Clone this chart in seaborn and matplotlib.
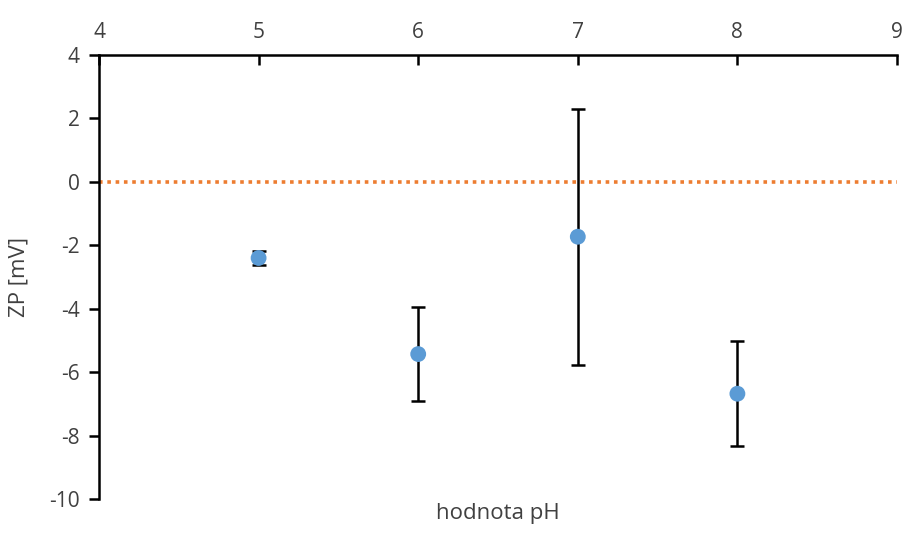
import matplotlib
matplotlib.use("Agg")
import matplotlib.pyplot as plt
import seaborn as sns
import pandas as pd

ph = [5, 6, 7, 8]
zp = [-2.40, -5.43, -1.73, -6.68]
zp_err = [0.21, 1.47, 4.03, 1.65]

ref_x = [4, 9]
ref_y = [0, 0]

df = pd.DataFrame({"ph": ph, "zp": zp, "err": zp_err})

sns.set_style("white")
plt.rcParams['font.family'] = ['Open Sans', 'DejaVu Sans']
plt.rcParams['axes.unicode_minus'] = False

fig = plt.figure(figsize=(9.06, 5.33), dpi=100)
ax = fig.add_axes([99 / 906, 1 - 499 / 533, (897 - 99) / 906, (499 - 55) / 533])

# orange dotted reference line at zero
sns.lineplot(x=ref_x, y=ref_y, ax=ax, color="#ED7D31", linestyle=(0, (1, 1.3)),
             linewidth=2.6, zorder=2)

ax.errorbar(df["ph"], df["zp"], yerr=df["err"], fmt="none", ecolor="black",
            elinewidth=1.8, capsize=5, capthick=1.8, zorder=3)
sns.scatterplot(data=df, x="ph", y="zp", ax=ax, color="#5B9BD5", s=130,
                edgecolor="none", zorder=4)

ax.set_xlim(4, 9)
ax.set_ylim(-10, 4)
ax.set_xticks([4, 5, 6, 7, 8, 9])
ax.set_yticks(range(-10, 5, 2))

ax.xaxis.tick_top()
ax.tick_params(axis="x", direction="in", length=7, width=1.8, labelsize=15,
               pad=9, colors="black", labelcolor="#404040")
ax.tick_params(axis="y", direction="out", length=7, width=1.8, labelsize=15,
               colors="black", labelcolor="#404040", pad=7)
ax.tick_params(axis="y", left=True)

for side in ["bottom", "right"]:
    ax.spines[side].set_visible(False)
for side in ["top", "left"]:
    ax.spines[side].set_color("black")
    ax.spines[side].set_linewidth(1.8)

ax.set_xlabel("hodnota pH", fontsize=16, color="#404040")
ax.xaxis.set_label_position("bottom")
ax.xaxis.labelpad = 3
ax.set_ylabel("ZP [mV]", fontsize=16, color="#404040", labelpad=14)

fig.savefig("out.png", dpi=100)
